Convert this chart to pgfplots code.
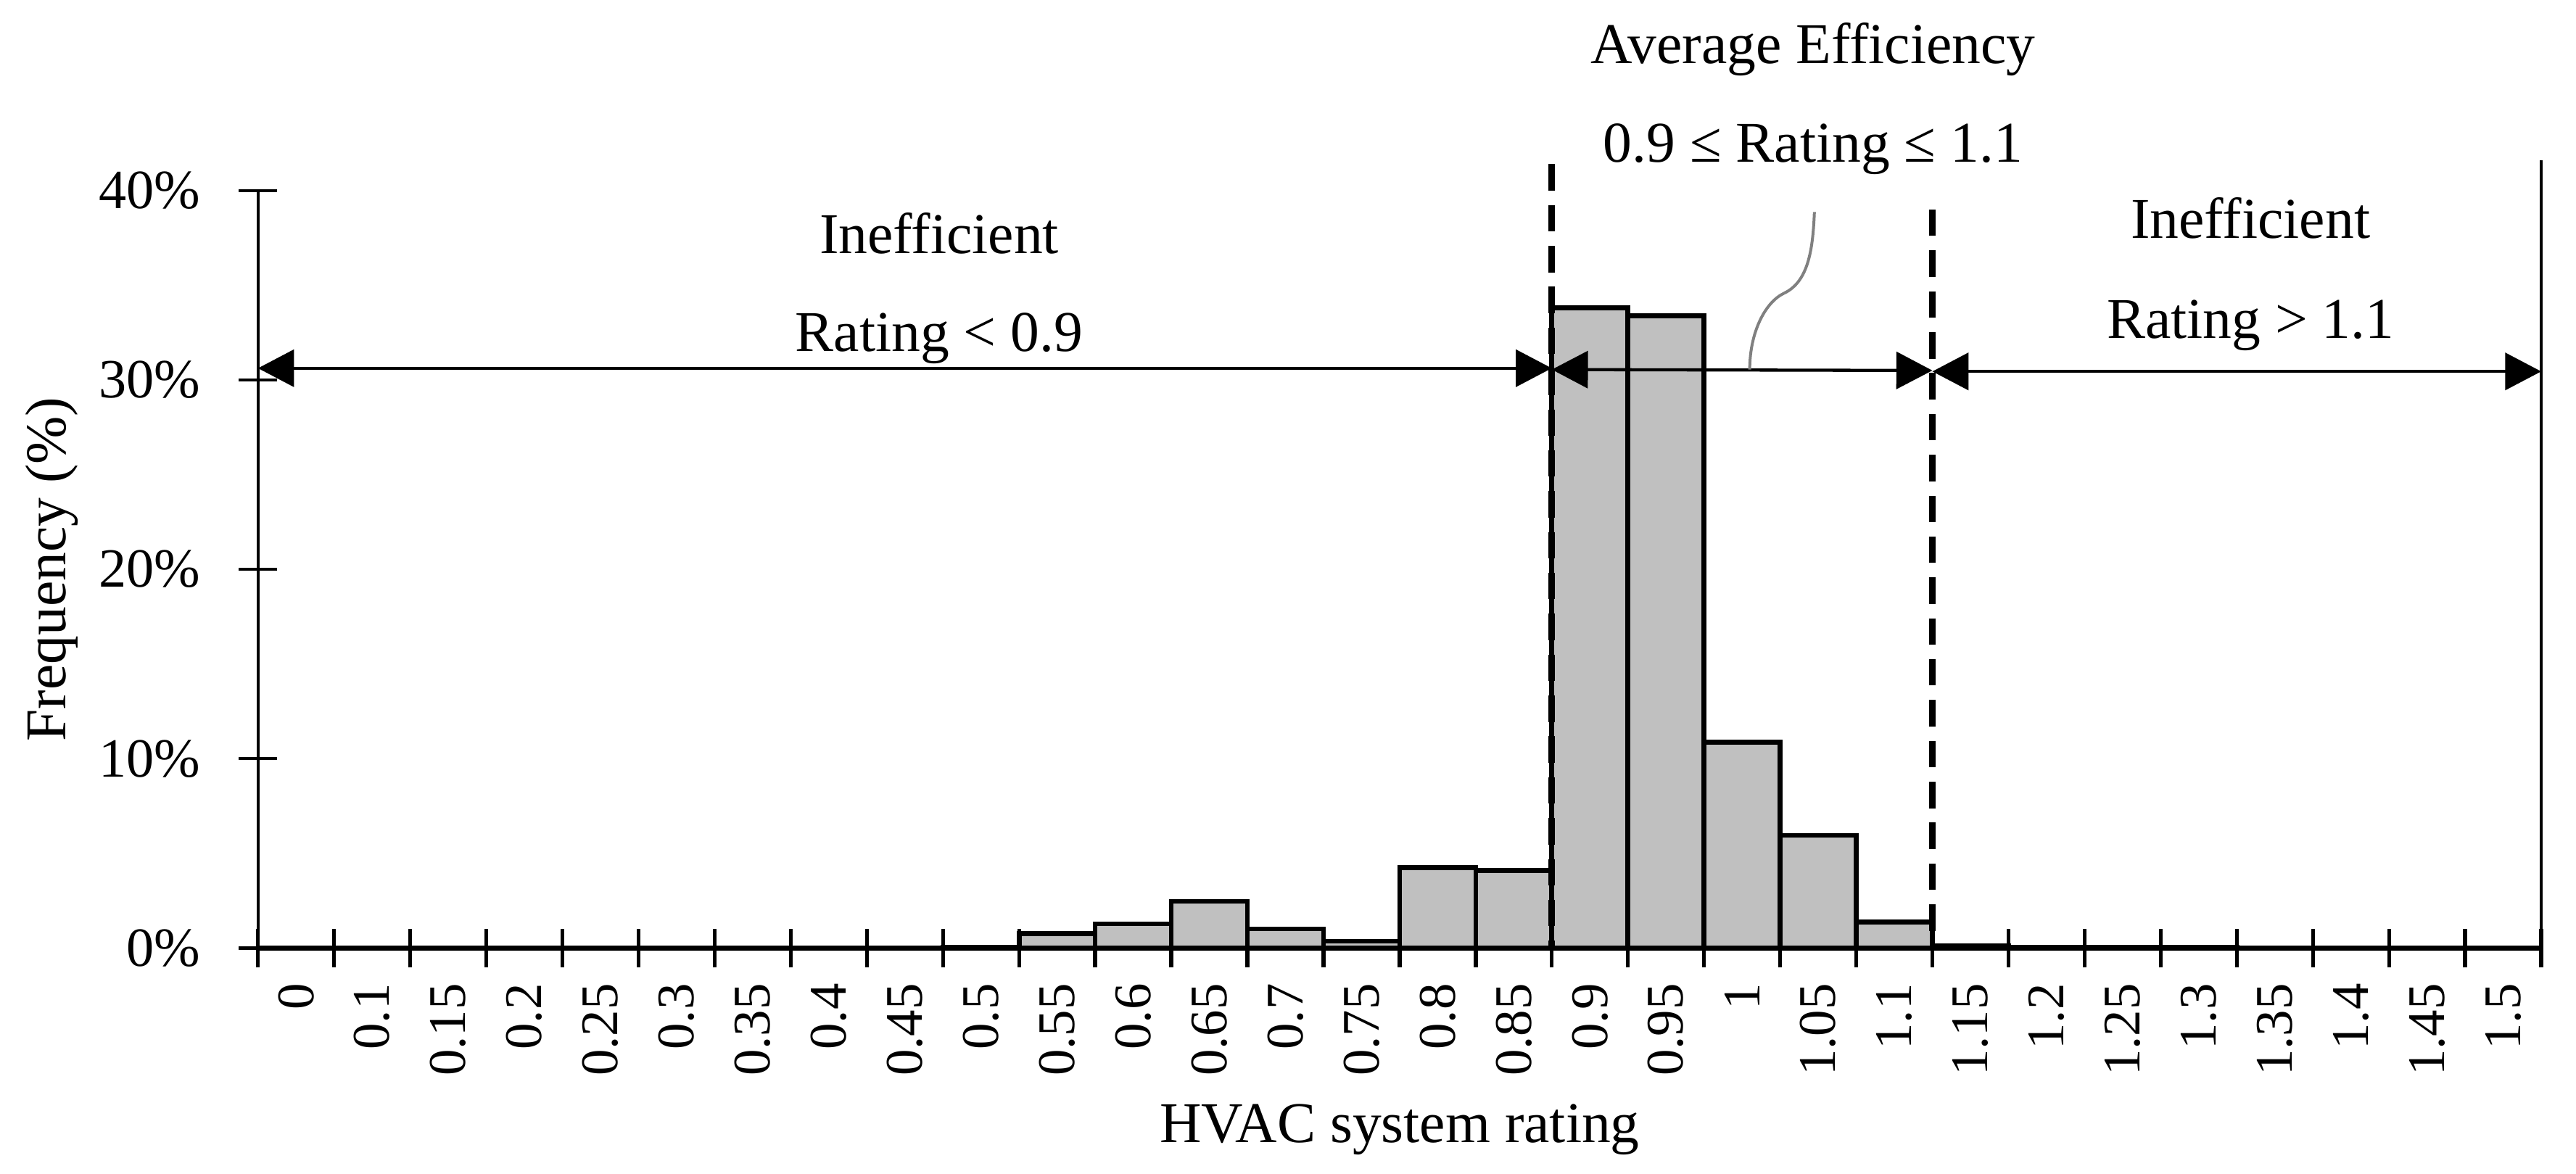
\documentclass[border=0pt]{standalone}
\usepackage{fontspec}
\setmainfont{Liberation Serif}
\usepackage{pgfplots}
\pgfplotsset{compat=1.18}
\usetikzlibrary{arrows.meta}
\definecolor{barfill}{RGB}{192,192,192}
\definecolor{bracegray}{RGB}{128,128,128}
\begin{document}
\fontsize{12}{14.4}\selectfont
\begin{tikzpicture}
\begin{axis}[
  scale only axis, width=474.8pt, height=157.5pt,
  xmin=0, xmax=30, ymin=0, ymax=40,
  axis lines=left, axis line style={-},
  x axis line style={line width=1pt},
  y axis line style={line width=0.65pt},
  clip=false,
  tick align=center, major tick length=8pt,
  xtick={0,...,30}, xticklabels={},
  xtick style={line width=0.8pt, black},
  extra x ticks={0.5,1.5,...,29.5},
  extra x tick labels={0,0.1,0.15,0.2,0.25,0.3,0.35,0.4,0.45,0.5,0.55,0.6,0.65,0.7,0.75,0.8,0.85,0.9,0.95,1,1.05,1.1,1.15,1.2,1.25,1.3,1.35,1.4,1.45,1.5},
  extra x tick style={grid=none, major tick length=0pt},
  xticklabel style={rotate=90, anchor=east, inner sep=0pt, font=\fontsize{11}{13}\selectfont},
  xticklabel shift=7.2pt,
  ytick={0,10,20,30,40}, yticklabels={0\%,10\%,20\%,30\%,40\%},
  ytick style={line width=0.7pt, black},
  yticklabel style={anchor=east, inner sep=0pt, font=\fontsize{11.5}{13}\selectfont},
  yticklabel shift=7.8pt,
  xlabel={HVAC system rating},
  xlabel style={at={(axis description cs:0.5,-0.2565)}, anchor=base},
  ylabel={Frequency (\%)},
  ylabel style={at={(axis description cs:-0.0902,0.5)}, anchor=center},
]
\addplot[ybar, bar width=1, fill=barfill, draw=black, line width=1pt] coordinates {
(9.5,0.03) (10.5,0.75) (11.5,1.28) (12.5,2.46) (13.5,1.01) (14.5,0.35)
(15.5,4.23) (16.5,4.1) (17.5,33.8) (18.5,33.4) (19.5,10.86) (20.5,5.94)
(21.5,1.38) (22.5,0.11) (23.5,0.03) (24.5,0.03) (25.5,0.03)
};
\draw[line width=1.3pt, dash pattern=on 5.5pt off 3pt] (axis cs:17,41.4) -- (axis cs:17,0);
\draw[line width=1.3pt, dash pattern=on 5.5pt off 3pt] (axis cs:22,39.0) -- (axis cs:22,0);
\draw[line width=0.7pt] (axis cs:30,-1.0) -- (axis cs:30,41.6);
\draw[line width=0.65pt, {Triangle[length=7.5pt,width=7.7pt]}-{Triangle[length=7.5pt,width=7.7pt]}] (axis cs:0,30.62) -- (axis cs:17,30.62);
\draw[line width=0.65pt, {Triangle[length=7.5pt,width=7.7pt]}-{Triangle[length=7.5pt,width=7.7pt]}] (axis cs:17,30.55) -- (axis cs:22,30.5);
\draw[line width=0.65pt, {Triangle[length=7.5pt,width=7.7pt]}-{Triangle[length=7.5pt,width=7.7pt]}] (axis cs:22,30.45) -- (axis cs:30,30.45);
\draw[bracegray, line width=0.6pt] (axis cs:20.45,38.87) .. controls (axis cs:20.43,37.0) and (axis cs:20.38,35.2) .. (axis cs:20.05,34.58) .. controls (axis cs:19.8,34.1) and (axis cs:19.6,32.5) .. (axis cs:19.6,30.55);
\node[anchor=base] at (axis cs:8.95,36.7) {Inefficient};
\node[anchor=base] at (axis cs:8.95,31.5) {Rating < 0.9};
\node[anchor=base] at (axis cs:20.43,46.7) {Average Efficiency};
\node[anchor=base] at (axis cs:20.43,41.5) {0.9 ≤ Rating ≤ 1.1};
\node[anchor=base] at (axis cs:26.18,37.5) {Inefficient};
\node[anchor=base] at (axis cs:26.18,32.2) {Rating > 1.1};
\path (axis cs:-3.39,-11.8) rectangle (axis cs:30.457,50.07);
\end{axis}
\end{tikzpicture}
\end{document}
